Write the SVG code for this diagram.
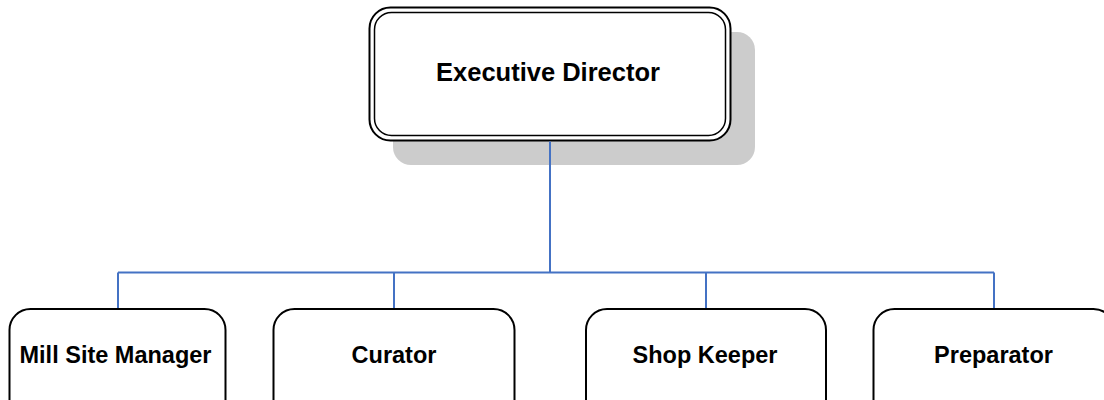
<svg xmlns="http://www.w3.org/2000/svg" width="1104" height="400" viewBox="0 0 1104 400">
<style>
.box{fill:#fff;stroke:#000;stroke-width:2}
.lbl{font-family:"Liberation Sans",Arial,sans-serif;font-weight:bold;font-size:23.5px;fill:#000;text-anchor:middle}
.conn{fill:none;stroke:#4472C4;stroke-width:2}
</style>
<rect width="1104" height="400" fill="#fff"/>
<g id="executive-director">
<rect x="393" y="32" width="362" height="133" rx="18" fill="#cccccc"/>
<rect x="369.5" y="7.5" width="361" height="133" rx="21" fill="#fff" stroke="#000" stroke-width="2"/>
<rect x="374.5" y="12.5" width="351" height="123" rx="17" fill="none" stroke="#000" stroke-width="1.5"/>
<text class="lbl" x="548" y="81" style="font-size:25.5px">Executive Director</text>
</g>
<g id="mill-site-manager">
<rect class="box" x="9.5" y="309" width="216" height="120" rx="21"/>
<text class="lbl" x="115.5" y="363">Mill Site Manager</text>
</g>
<g id="curator">
<rect class="box" x="273.5" y="309" width="241" height="120" rx="21"/>
<text class="lbl" x="394" y="363">Curator</text>
</g>
<g id="shop-keeper">
<rect class="box" x="586" y="309" width="240" height="120" rx="21"/>
<text class="lbl" x="705" y="363">Shop Keeper</text>
</g>
<g id="preparator">
<rect class="box" x="873.5" y="309" width="241" height="120" rx="21"/>
<text class="lbl" x="993.5" y="363">Preparator</text>
</g>
<g id="connectors">
<path class="conn" d="M550,141.5 V272.5 M118,272.5 H994 M118,272.5 V308 M394,272.5 V308 M706,272.5 V308 M994,272.5 V308"/>
</g>
</svg>
